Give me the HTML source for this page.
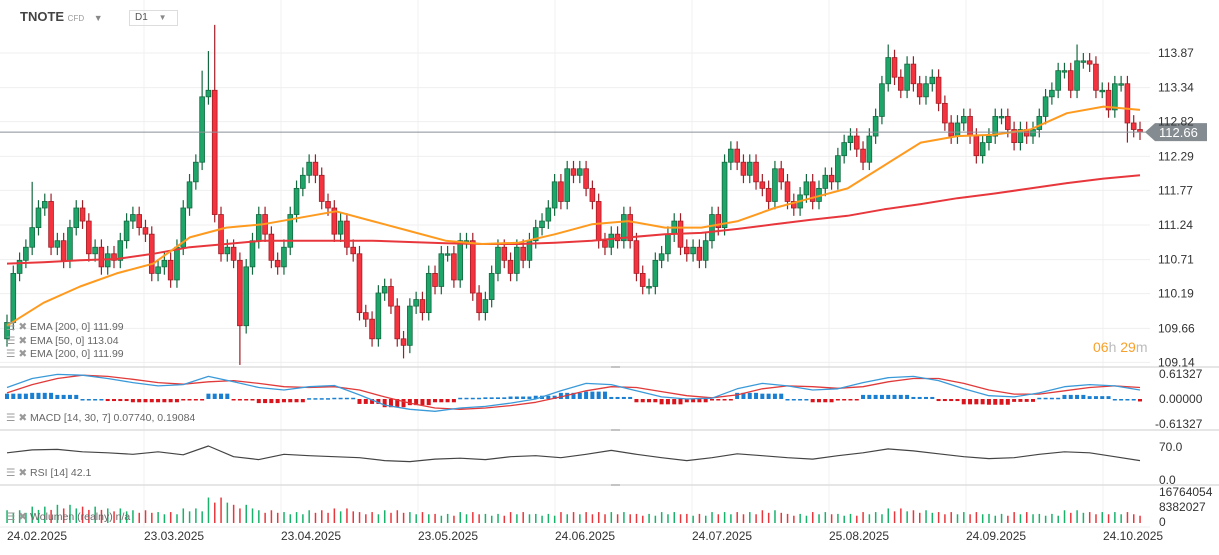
<!DOCTYPE html>
<html><head><meta charset="utf-8"><style>
body{margin:0;background:#fff;width:1219px;height:550px;overflow:hidden;font-family:"Liberation Sans",sans-serif}
svg text{font-family:"Liberation Sans",sans-serif}
</style></head><body>
<svg id="c" width="1219" height="550"></svg>
<script>
const closes=[109.75,110.5,110.7,110.9,111.2,111.5,111.6,110.9,111.0,110.7,
111.2,111.5,111.3,110.8,110.9,110.6,110.8,110.7,111.0,111.3,
111.4,111.2,111.1,110.5,110.6,110.7,110.4,110.9,111.5,111.9,
112.2,113.2,113.3,111.4,110.8,110.9,110.7,109.7,110.6,111.0,
111.4,111.1,110.7,110.6,110.9,111.4,111.8,112.0,112.2,112.0,
111.6,111.5,111.1,111.3,110.9,110.8,109.9,109.8,109.5,110.2,
110.3,110.0,109.5,109.4,110.0,110.1,109.9,110.5,110.3,110.8,
110.8,110.4,111.0,111.0,110.2,109.9,110.1,110.5,110.9,110.7,
110.5,110.9,110.7,111.0,111.2,111.3,111.5,111.9,111.6,112.1,
112.0,112.1,111.8,111.6,111.0,110.9,111.1,111.0,111.4,111.0,
110.5,110.3,110.3,110.7,110.8,111.1,111.3,110.9,110.8,110.9,
110.7,111.0,111.4,111.2,112.2,112.4,112.2,112.0,112.2,111.9,
111.8,111.6,112.1,111.9,111.6,111.5,111.7,111.9,111.6,111.8,
112.0,111.9,112.3,112.5,112.6,112.4,112.2,112.6,112.9,113.4,
113.8,113.5,113.3,113.7,113.4,113.2,113.4,113.5,113.1,112.8,
112.6,112.8,112.9,112.6,112.3,112.5,112.6,112.9,112.9,112.7,
112.5,112.7,112.6,112.7,112.9,113.2,113.3,113.6,113.6,113.3,
113.75,113.75,113.7,113.3,113.3,113.0,113.4,113.4,112.8,112.7,112.66];
const firstOpen=109.5;
const wickOverrides={4:[111.9,null],31:[113.6,null],32:[113.9,null],33:[114.3,null],37:[null,109.1],63:[null,109.2],140:[114.0,null],170:[114.0,null],178:[null,112.5]};
const ema200=[110.65,110.67,110.7,110.72,110.8,110.9,110.95,111.0,111.0,111.0,111.0,110.98,110.96,110.95,110.95,110.97,111.0,111.05,111.1,111.12,111.18,111.25,111.32,111.38,111.48,111.56,111.65,111.72,111.8,111.88,111.95,112.0];
const ema50=[109.7,110.05,110.3,110.5,110.65,111.05,111.2,111.25,111.35,111.45,111.3,111.15,111.0,110.95,110.97,111.1,111.25,111.3,111.2,111.2,111.3,111.5,111.65,111.8,112.15,112.5,112.6,112.62,112.7,112.95,113.05,113.0];
const macd=[0.28,0.5,0.6,0.58,0.5,0.4,0.32,0.35,0.55,0.42,0.28,0.22,0.3,0.33,0.1,-0.15,-0.25,-0.3,-0.22,-0.18,-0.1,0.0,0.2,0.38,0.35,0.2,0.05,0.0,0.02,0.25,0.38,0.32,0.22,0.25,0.4,0.52,0.55,0.45,0.25,0.08,0.05,0.15,0.3,0.35,0.32,0.22];
const signal=[0.15,0.35,0.5,0.58,0.55,0.48,0.4,0.36,0.42,0.45,0.38,0.3,0.28,0.3,0.22,0.05,-0.1,-0.22,-0.25,-0.22,-0.16,-0.08,0.05,0.2,0.3,0.28,0.18,0.08,0.03,0.1,0.25,0.32,0.3,0.26,0.3,0.42,0.5,0.5,0.38,0.22,0.12,0.12,0.2,0.28,0.32,0.28];
const hist=[0.13,0.15,0.1,0.0,-0.05,-0.08,-0.08,-0.01,0.13,-0.03,-0.1,-0.08,0.02,0.03,-0.12,-0.2,-0.15,-0.08,0.03,0.04,0.06,0.08,0.15,0.18,0.05,-0.08,-0.13,-0.08,-0.01,0.15,0.13,0.0,-0.08,-0.01,0.1,0.1,0.05,-0.05,-0.13,-0.14,-0.07,0.03,0.1,0.07,0.0,-0.06];
const rsi=[58,64,65,60,58,55,60,54,72,50,44,55,52,50,48,42,40,45,47,44,50,52,48,55,63,55,48,42,48,56,52,48,45,52,58,66,62,56,50,46,48,55,60,58,50,42];
const volume=[7,9,10,9,8,7,6,8,14,10,7,6,7,8,6,7,6,5,6,5,6,5,6,6,6,5,6,5,6,6,7,5,6,5,6,8,7,6,6,5,6,5,7,6,6,4];
const priceTicks=["113.87","113.34","112.82","112.29","111.77","111.24","110.71","110.19","109.66","109.14"];
const dateLabels=["24.02.2025","23.03.2025","23.04.2025","23.05.2025","24.06.2025","24.07.2025","25.08.2025","24.09.2025","24.10.2025"];

const NS="http://www.w3.org/2000/svg",svg=document.getElementById('c');
function el(t,a,p){const e=document.createElementNS(NS,t);for(const k in a)e.setAttribute(k,a[k]);(p||svg).appendChild(e);return e;}
const x0=7,x1=1140,n=closes.length;
const X=i=>x0+(x1-x0)*i/(n-1);
const Y=v=>53+(113.87-v)*65.4;
const YM=v=>399-v*41;
const YR=v=>481-v*0.486;
const YV=v=>523-v*30.5/16.764;
const XC=(k,len)=>x0+(x1-x0)*k/(len-1);
const XD=k=>7+137*k;

const grid=el('g',{});
priceTicks.forEach(t=>{const y=Y(+t);el('line',{x1:0,x2:1150,y1:y,y2:y,stroke:'#efefef'},grid);});
dateLabels.forEach((d,k)=>{if(k>0)el('line',{x1:XD(k),x2:XD(k),y1:0,y2:528,stroke:'#f0f0f0'},grid);});
[367,430,485].forEach(y=>{el('line',{x1:0,x2:1219,y1:y,y2:y,stroke:'#ddd','stroke-width':1.5},grid);el('line',{x1:611,x2:620,y1:y,y2:y,stroke:'#999'},grid);});
el('line',{x1:0,x2:1150,y1:527,y2:527,stroke:'#eee'},grid);

function poly(arr,yf,color,name,w){const pts=arr.map((v,k)=>XC(k,arr.length).toFixed(1)+','+yf(v).toFixed(1)).join(' ');const p=el('polyline',{points:pts,fill:'none',stroke:color,'stroke-width':w,'stroke-linejoin':'round'});return p;}

const cg=el('g',{});
closes.forEach((c,i)=>{
 const o=i?closes[i-1]:firstOpen;const up=c>=o;
 const ov=wickOverrides[i]||[null,null];
 const hi=ov[0]!=null?ov[0]:Math.max(o,c)+0.12,lo=ov[1]!=null?ov[1]:Math.min(o,c)-0.12;
 const x=X(i);const col=up?'#1ea56a':'#f5333f',bd=up?'#13693f':'#a11d26';
 el('line',{x1:x,x2:x,y1:Y(hi),y2:Y(lo),stroke:bd,'stroke-width':1.2},cg);
 const yt=Y(Math.max(o,c)),h=Math.max(1.5,Y(Math.min(o,c))-yt);
 const r=el('rect',{x:x-2.4,y:yt,width:4.8,height:h,fill:col,stroke:bd,'stroke-width':0.8},cg);
 
});
poly(ema200,Y,'#e8373c','ema-200-line',2);
poly(ema50,Y,'#ff9a1f','ema-50-line',2);

const pl=el('line',{x1:0,x2:1150,y1:Y(112.66),y2:Y(112.66),stroke:'#8a9196','stroke-width':1});
const pb=el('path',{d:`M1145 ${Y(112.66)} L1155 ${Y(112.66)-9} H1207 V${Y(112.66)+9} H1155 Z`,fill:'#858c91'});
const pt=el('text',{x:1159,y:Y(112.66)+5,'font-size':13,fill:'#fff'});pt.textContent='112.66';

priceTicks.forEach(t=>{const tx=el('text',{x:1158,y:Y(+t)+4,'font-size':12,fill:'#333'});tx.textContent=t;});
[['0.61327',378],['0.00000',403],['-0.61327',428],['70.0',451],['0.0',484],['16764054',496],['8382027',511],['0',526]].forEach(([t,y])=>{const tx=el('text',{x:t[0]=='-'?1155:1159,y:y,'font-size':12,fill:'#333'});tx.textContent=t;});
dateLabels.forEach((t,k)=>{const tx=el('text',{x:XD(k),y:540,'font-size':12,fill:'#333'});tx.textContent=t;});

hist.forEach((v,k)=>{for(let j=0;j<4;j++){const i=k*4+j;if(i>=n)break;const x=X(i);const y=YM(v);const r=el('rect',{x:x-2,y:Math.min(y,399),width:4,height:Math.max(1.5,Math.abs(y-399)),fill:v>=0?'#1a7fd0':'#d9141c'});}});
poly(signal,YM,'#e03a3a','macd-signal-line',1.3);
poly(macd,YM,'#3a9ad9','macd-line',1.3);
poly(rsi,YR,'#444','rsi-line',1.2);
volume.forEach((v,k)=>{for(let j=0;j<4;j++){const i=k*4+j;if(i>=n)break;const o=i?closes[i-1]:firstOpen;const x=X(i);const r=el('rect',{x:x-0.7,y:YV(v*(j%2?0.8:1)),width:1.5,height:523-YV(v*(j%2?0.8:1)),fill:closes[i]>=o?'#19b26b':'#e8373c'});}});
</script>
<div style="position:absolute;left:20px;top:9px;font-size:13px;color:#444;font-weight:bold">TNOTE <span style="font-size:8px;color:#999;font-weight:normal">CFD</span> <span style="color:#888;font-size:9px;margin-left:6px">▼</span></div>
<div style="position:absolute;left:129px;top:10px;width:42px;height:14px;border:1px solid #ddd;font-size:10px;color:#555;padding-left:5px;line-height:14px">D1 <span style="color:#888;font-size:8px;margin-left:8px">▼</span></div>
<div style="position:absolute;left:6px;top:321px;font-size:10.5px;color:#666;line-height:13.5px">
<div><span style="color:#999">☰ ✖</span> EMA [200, 0] 111.99</div>
<div><span style="color:#999">☰ ✖</span> EMA [50, 0] 113.04</div>
<div><span style="color:#999">☰ ✖</span> EMA [200, 0] 111.99</div></div>
<div style="position:absolute;left:6px;top:412px;font-size:10.5px;color:#666"><span style="color:#999">☰ ✖</span> MACD [14, 30, 7] 0.07740, 0.19084</div>
<div style="position:absolute;left:6px;top:467px;font-size:10.5px;color:#666"><span style="color:#999">☰ ✖</span> RSI [14] 42.1</div>
<div style="position:absolute;left:6px;top:511px;font-size:10.5px;color:#666"><span style="color:#999">☰ ✖</span> Wolumen (realny) n/a</div>
<div style="position:absolute;left:1093px;top:339px;font-size:14px;color:#f7a12a">06<span style="color:#bbb">h</span> 29<span style="color:#bbb">m</span></div>
</body></html>
